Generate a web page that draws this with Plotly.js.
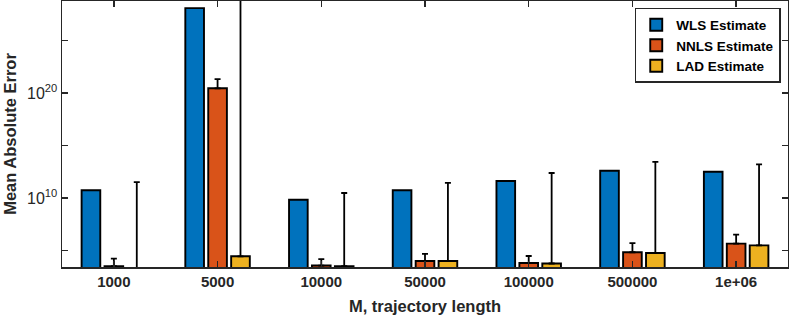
<!DOCTYPE html>
<html>
<head>
<meta charset="utf-8">
<script src="https://cdn.plot.ly/plotly-3.0.1.min.js"></script>
<style>html,body{margin:0;padding:0;background:#fff;}#chart{width:789px;height:316px;}</style>
</head>
<body>
<div id="chart"></div>
<script>
const categories = ['1000', '5000', '10000', '50000', '100000', '500000', '1e+06'];
const wlsValues  = [5.4e10, 1.2e28, 6.8e9, 5.4e10, 4.2e11, 4.0e12, 3.2e12];
const nnlsValues = [3.2e3, 2.8e20, 3.7e3, 1.0e4, 6.5e3, 6.8e4, 4.5e5];
const nnlsUpper  = [1.7e4, 2.1e21, 1.5e4, 4.7e4, 3.0e4, 5.1e5, 3.2e6];
const ladValues  = [1.0e3, 2.8e4, 3.2e3, 1.0e4, 5.8e3, 5.8e4, 3.1e5];
const ladUpper   = [3.2e11, 1.0e30, 3.0e10, 2.7e11, 2.4e12, 2.7e13, 1.6e13];
const seriesNames = ['WLS Estimate', 'NNLS Estimate', 'LAD Estimate'];
const yTickVals = [1e10, 1e20];
const yTickText = ['10<sup>10</sup>', '10<sup>20</sup>'];
const yMinorTickVals = [1e5, 1e15, 1e25];

const FONT = 'Liberation Sans, Arial, Helvetica, sans-serif';
const colors = ['#0072BD', '#D95319', '#EDB120'];

function errPlus(vals, upper) { return vals.map((v, i) => upper[i] - v); }
function zeros(n) { return new Array(n).fill(0); }

const errStyle = {color: '#000000', thickness: 1.8, width: 3};

const traces = [
  {type: 'bar', name: seriesNames[0], x: categories, y: wlsValues,
   marker: {color: colors[0], line: {color: '#000', width: 1.9}}},
  {type: 'bar', name: seriesNames[1], x: categories, y: nnlsValues,
   marker: {color: colors[1], line: {color: '#000', width: 1.9}},
   error_y: Object.assign({type: 'data', symmetric: false, array: errPlus(nnlsValues, nnlsUpper), arrayminus: zeros(categories.length), visible: true}, errStyle)},
  {type: 'bar', name: seriesNames[2], x: categories, y: ladValues,
   marker: {color: colors[2], line: {color: '#000', width: 1.9}},
   error_y: Object.assign({type: 'data', symmetric: false, array: errPlus(ladValues, ladUpper), arrayminus: zeros(categories.length), visible: true}, errStyle)}
];

const axisCommon = {
  showline: true, linecolor: '#262626', linewidth: 1.5, mirror: 'allticks',
  ticks: 'inside', ticklen: 6, tickwidth: 1.3, tickcolor: '#262626',
  showgrid: false, zeroline: false
};

const layout = {
  width: 789, height: 316,
  margin: {l: 62, r: 1, t: 1, b: 49},
  paper_bgcolor: '#ffffff', plot_bgcolor: '#ffffff',
  barmode: 'group', bargap: 0.337, bargroupgap: 0.186,
  showlegend: true,
  legend: {x: 0.99, y: 0.974, xanchor: 'right', yanchor: 'top',
           bgcolor: '#ffffff', bordercolor: '#262626', borderwidth: 1.5,
           font: {family: FONT, size: 13.5, color: '#000', weight: 'bold'},
           tracegroupgap: 0, itemwidth: 30},
  xaxis: Object.assign({}, axisCommon, {
    type: 'category', range: [-0.5, 6.5],
    tickfont: {family: FONT, size: 15, color: '#262626', weight: 'bold'},
    title: {text: 'M, trajectory length', font: {family: FONT, size: 16.5, color: '#262626', weight: 'bold'}, standoff: 12}
  }),
  yaxis: Object.assign({}, axisCommon, {
    type: 'log', range: [3.43, 28.76],
    tickmode: 'array', tickvals: yTickVals, ticktext: yTickText,
    tickfont: {family: FONT, size: 16, color: '#262626'},
    minor: {tickmode: 'array', tickvals: yMinorTickVals, ticks: 'inside', ticklen: 6, tickwidth: 1.3, tickcolor: '#262626', showgrid: false},
    title: {text: 'Mean Absolute Error', font: {family: FONT, size: 16.5, color: '#262626', weight: 'bold'}, standoff: 6}
  })
};

Plotly.newPlot('chart', traces, layout, {displayModeBar: false, staticPlot: true});
</script>
</body>
</html>
